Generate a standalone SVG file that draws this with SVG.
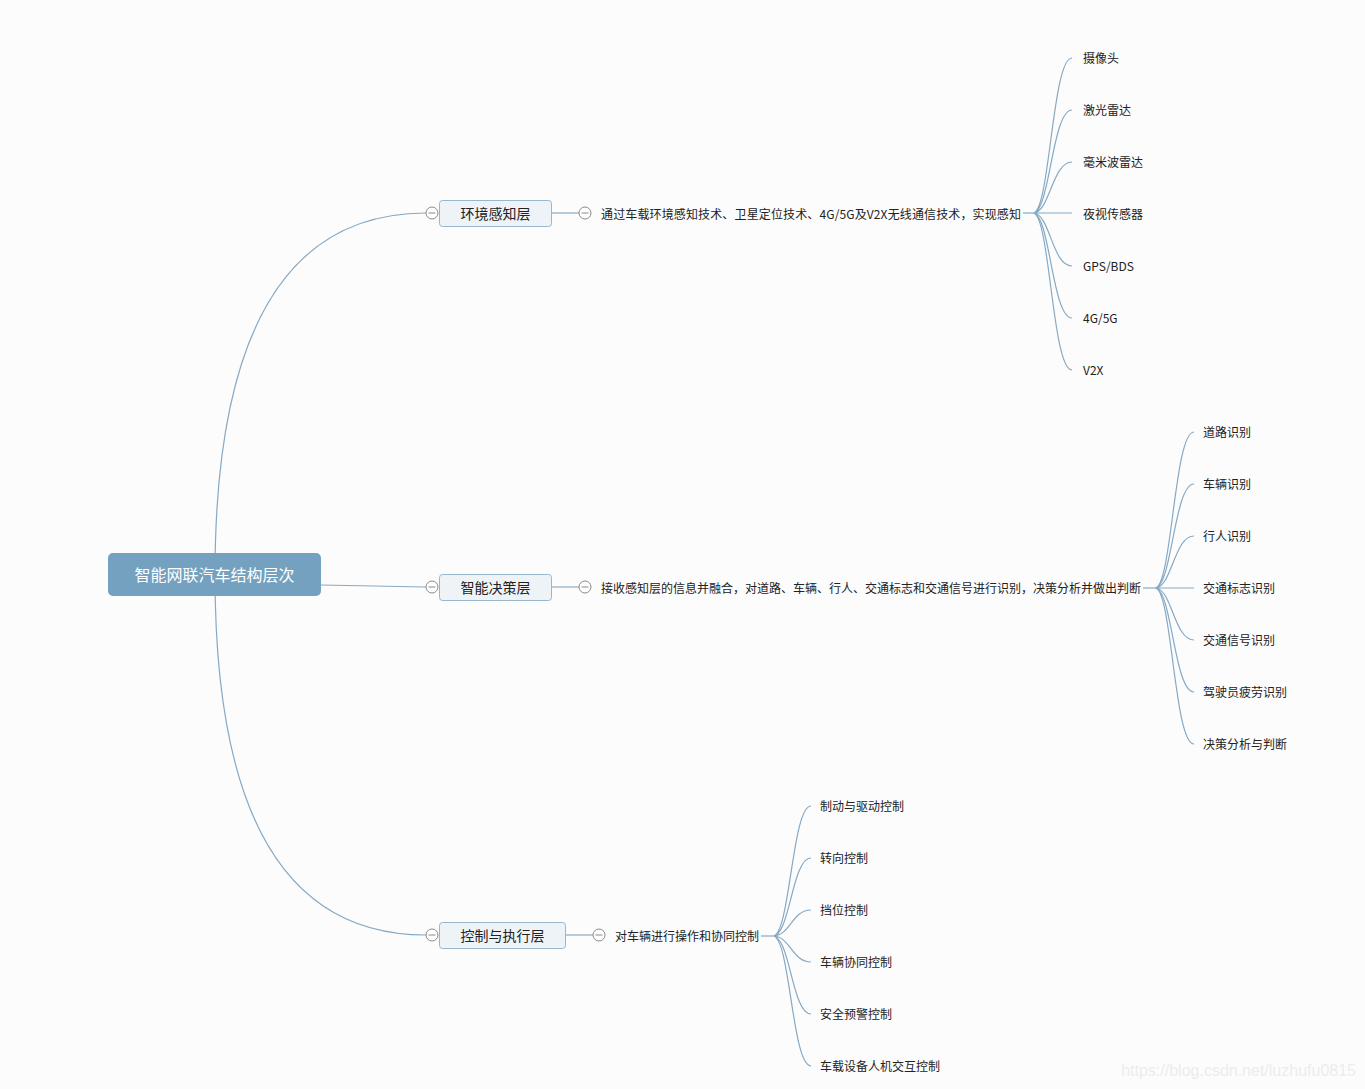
<svg xmlns="http://www.w3.org/2000/svg" width="1365" height="1089" viewBox="0 0 1365 1089">
<style>
text{font-family:"Microsoft YaHei","Noto Sans CJK SC","Liberation Sans",sans-serif;fill:#222;dominant-baseline:central}
.conn{fill:none;stroke:#86a9c4;stroke-width:1.2}
.l1 rect{fill:#eef3f7;stroke:#98b6cc;stroke-width:1}
.l1 text{font-size:14px;text-anchor:middle}
.l2 text,.leaf text{font-size:12px}
.tog circle{fill:#fff;stroke:#8a8a8a;stroke-width:1}
.tog line{stroke:#8a8a8a;stroke-width:1}
</style>
<defs>
<g id="tog" class="tog"><circle r="6" cx="0" cy="0"/><line x1="-3.5" y1="0" x2="3.5" y2="0"/></g>
</defs>
<rect width="1365" height="1089" fill="#fcfcfc"/>
<g id="connectors">
<path class="conn" d="M215,575 Q215,213 426,213"/>
<path class="conn" d="M321,585 L426,587"/>
<path class="conn" d="M215,575 Q215,935 426,935"/>
<path class="conn" d="M551,213 H579"/>
<path class="conn" d="M551,587 H579"/>
<path class="conn" d="M565,935 H593"/>
<path class="conn" d="M1023,213 H1033"/>
<path class="conn" d="M1033,213 C1050,213 1052,58 1072,58 M1033,213 C1050,213 1052,110 1072,110 M1033,213 C1050,213 1052,162 1072,162 M1033,213 H1072 M1033,213 C1050,213 1052,266 1072,266 M1033,213 C1050,213 1052,318 1072,318 M1033,213 C1050,213 1052,370 1072,370"/>
<path class="conn" d="M1143,588 H1155"/>
<path class="conn" d="M1155,588 C1172,588 1174,432 1194,432 M1155,588 C1172,588 1174,484 1194,484 M1155,588 C1172,588 1174,536 1194,536 M1155,588 H1194 M1155,588 C1172,588 1174,640 1194,640 M1155,588 C1172,588 1174,692 1194,692 M1155,588 C1172,588 1174,744 1194,744"/>
<path class="conn" d="M761,936 H773"/>
<path class="conn" d="M773,936 C790,936 792,806 811,806 M773,936 C790,936 792,858 811,858 M773,936 C790,936 792,910 811,910 M773,936 C790,936 792,962 811,962 M773,936 C790,936 792,1014 811,1014 M773,936 C790,936 792,1066 811,1066"/>
</g>
<g id="root">
<rect x="108" y="553" width="213" height="43" rx="5" fill="#73a1bf"/>
<text x="214.5" y="574" font-size="16" text-anchor="middle" style="fill:#fff">智能网联汽车结构层次</text>
</g>
<g id="n-env" class="l1">
<use href="#tog" x="432" y="213"/>
<rect x="439.5" y="200.5" width="112" height="26" rx="3"/>
<text x="495.5" y="212.5">环境感知层</text>
</g>
<g id="n-dec" class="l1">
<use href="#tog" x="432" y="587"/>
<rect x="439.5" y="574.5" width="112" height="26" rx="3"/>
<text x="495.5" y="586.5">智能决策层</text>
</g>
<g id="n-ctl" class="l1">
<use href="#tog" x="432" y="935"/>
<rect x="439.5" y="922.5" width="126" height="26" rx="3"/>
<text x="502.5" y="934.5">控制与执行层</text>
</g>
<g id="d-env" class="l2">
<use href="#tog" x="585" y="213"/>
<text x="601" y="213" textLength="420" lengthAdjust="spacing">通过车载环境感知技术、卫星定位技术、4G/5G及V2X无线通信技术，实现感知</text>
</g>
<g id="d-dec" class="l2">
<use href="#tog" x="585" y="587"/>
<text x="601" y="587">接收感知层的信息并融合，对道路、车辆、行人、交通标志和交通信号进行识别，决策分析并做出判断</text>
</g>
<g id="d-ctl" class="l2">
<use href="#tog" x="599" y="935"/>
<text x="615" y="935">对车辆进行操作和协同控制</text>
</g>
<g id="leaves-env" class="leaf">
<text x="1083" y="57">摄像头</text>
<text x="1083" y="109">激光雷达</text>
<text x="1083" y="161">毫米波雷达</text>
<text x="1083" y="213">夜视传感器</text>
<text x="1083" y="265">GPS/BDS</text>
<text x="1083" y="317">4G/5G</text>
<text x="1083" y="369">V2X</text>
</g>
<g id="leaves-dec" class="leaf">
<text x="1203" y="431">道路识别</text>
<text x="1203" y="483">车辆识别</text>
<text x="1203" y="535">行人识别</text>
<text x="1203" y="587">交通标志识别</text>
<text x="1203" y="639">交通信号识别</text>
<text x="1203" y="691">驾驶员疲劳识别</text>
<text x="1203" y="743">决策分析与判断</text>
</g>
<g id="leaves-ctl" class="leaf">
<text x="820" y="805">制动与驱动控制</text>
<text x="820" y="857">转向控制</text>
<text x="820" y="909">挡位控制</text>
<text x="820" y="961">车辆协同控制</text>
<text x="820" y="1013">安全预警控制</text>
<text x="820" y="1065">车载设备人机交互控制</text>
</g>
<text x="1356" y="1070" font-size="16" text-anchor="end" style="fill:#ececec;font-family:'Liberation Sans',Arial,sans-serif">https://blog.csdn.net/luzhufu0815</text>
</svg>
